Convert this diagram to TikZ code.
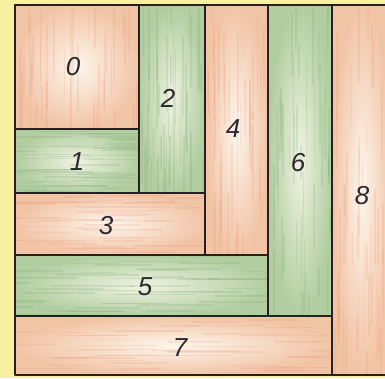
\documentclass[tikz,border=0pt]{standalone}
\usepackage{fontspec}
\newfontfamily\digitfont{Liberation Sans}
\definecolor{bgyellow}{RGB}{247,240,160}
\definecolor{salmonin}{RGB}{252,246,236}
\definecolor{salmonout}{RGB}{242,196,166}
\definecolor{salmonstreak}{RGB}{236,150,120}
\definecolor{greenin}{RGB}{240,243,226}
\definecolor{greenout}{RGB}{178,206,160}
\definecolor{greenstreak}{RGB}{120,165,115}
\definecolor{linecol}{RGB}{40,32,32}
\definecolor{numcol}{RGB}{45,40,45}
\tikzset{
  salmon/.style={inner color=salmonin, outer color=salmonout},
  greenish/.style={inner color=greenin, outer color=greenout},
  board/.style={draw=linecol, line width=1.8pt, line join=round},
  streak/.style={line width=1.6pt, opacity=0.18},
  num/.style={font=\digitfont\itshape\fontsize{26}{26}\selectfont, text=numcol, inner sep=0pt}
}
% vertical streaks: x1 y1 x2 y2 colour
\newcommand\myvstreaks[5]{%
  \begin{scope}
  \clip (#1,#2) rectangle (#3,#4);
  \foreach \i in {1,...,45}{%
    \pgfmathsetmacro\xx{#1+rnd*(#3-#1)}%
    \pgfmathsetmacro\ya{#2-20+rnd*(#4-#2)}%
    \pgfmathsetmacro\yb{\ya+25+rnd*70}%
    \draw[streak, #5] (\xx,\ya) -- (\xx,\yb);
  }
  \end{scope}}
% horizontal streaks
\newcommand\myhstreaks[5]{%
  \begin{scope}
  \clip (#1,#2) rectangle (#3,#4);
  \foreach \i in {1,...,45}{%
    \pgfmathsetmacro\yy{#2+rnd*(#4-#2)}%
    \pgfmathsetmacro\xa{#1-20+rnd*(#3-#1)}%
    \pgfmathsetmacro\xb{\xa+25+rnd*70}%
    \draw[streak, #5] (\xa,\yy) -- (\xb,\yy);
  }
  \end{scope}}
\begin{document}
\begin{tikzpicture}[x=1pt,y=-1pt]
\pgfmathsetseed{7}
\useasboundingbox (0,0) rectangle (385,378);
\clip (0,0) rectangle (385,378);
\fill[bgyellow] (0,0) rectangle (385,378);
% fills
\shade[salmon]   (15,5)   rectangle (139,129);
\shade[greenish] (15,129) rectangle (139,193);
\shade[greenish] (139,5)  rectangle (205,193);
\shade[salmon]   (15,193) rectangle (205,255);
\shade[salmon]   (205,5)  rectangle (268,255);
\shade[greenish] (15,255) rectangle (268,316);
\shade[greenish] (268,5)  rectangle (332,316);
\shade[salmon]   (15,316) rectangle (332,375);
\shade[salmon]   (332,5)  rectangle (392,375);
% pencil texture
\myvstreaks{15}{5}{139}{129}{salmonstreak}
\myhstreaks{15}{129}{139}{193}{greenstreak}
\myvstreaks{139}{5}{205}{193}{greenstreak}
\myhstreaks{15}{193}{205}{255}{salmonstreak}
\myvstreaks{205}{5}{268}{255}{salmonstreak}
\myhstreaks{15}{255}{268}{316}{greenstreak}
\myvstreaks{268}{5}{332}{316}{greenstreak}
\myhstreaks{15}{316}{332}{375}{salmonstreak}
\myvstreaks{332}{5}{392}{375}{salmonstreak}
% outlines
\draw[board] (15,5) rectangle (139,129);
\draw[board] (15,129) rectangle (139,193);
\draw[board] (139,5) rectangle (205,193);
\draw[board] (15,193) rectangle (205,255);
\draw[board] (205,5) rectangle (268,255);
\draw[board] (15,255) rectangle (268,316);
\draw[board] (268,5) rectangle (332,316);
\draw[board] (15,316) rectangle (332,375);
\draw[board] (332,5) rectangle (392,375);
% labels
\node[num] (n0) at (73,67)  {0};
\node[num] (n1) at (77,162) {1};
\node[num] (n2) at (168,98) {2};
\node[num] (n3) at (106,226) {3};
\node[num] (n4) at (233,129) {4};
\node[num] (n5) at (145,287) {5};
\node[num] (n6) at (298,163) {6};
\node[num] (n7) at (180,348) {7};
\node[num] (n8) at (362,196) {8};
\end{tikzpicture}
\end{document}
